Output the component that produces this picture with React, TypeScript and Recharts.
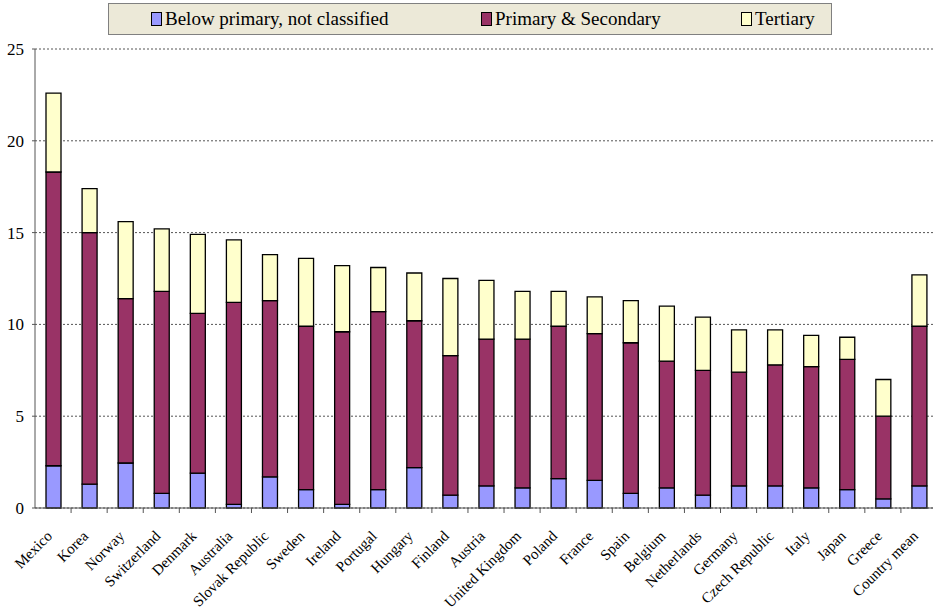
import React from 'react';
import { BarChart, Bar, XAxis, YAxis, CartesianGrid } from 'recharts';

if (typeof document !== 'undefined') document.body.style.margin = '0';

const countries = [
  'Mexico', 'Korea', 'Norway', 'Switzerland', 'Denmark', 'Australia', 'Slovak Republic', 'Sweden',
  'Ireland', 'Portugal', 'Hungary', 'Finland', 'Austria', 'United Kingdom', 'Poland', 'France',
  'Spain', 'Belgium', 'Netherlands', 'Germany', 'Czech Republic', 'Italy', 'Japan', 'Greece', 'Country mean',
];

const belowPrimary = [2.3, 1.3, 2.45, 0.8, 1.9, 0.2, 1.7, 1.0, 0.2, 1.0, 2.2, 0.7, 1.2, 1.1, 1.6, 1.5, 0.8, 1.1, 0.7, 1.2, 1.2, 1.1, 1.0, 0.5, 1.2];
const primarySecondary = [16.0, 13.7, 8.95, 11.0, 8.7, 11.0, 9.6, 8.9, 9.4, 9.7, 8.0, 7.6, 8.0, 8.1, 8.3, 8.0, 8.2, 6.9, 6.8, 6.2, 6.6, 6.6, 7.1, 4.5, 8.7];
const tertiary = [4.3, 2.4, 4.2, 3.4, 4.3, 3.4, 2.5, 3.7, 3.6, 2.4, 2.6, 4.2, 3.2, 2.6, 1.9, 2.0, 2.3, 3.0, 2.9, 2.3, 1.9, 1.7, 1.2, 2.0, 2.8];
const yTicks = [0, 5, 10, 15, 20, 25];

const data = countries.map((c, i) => ({
  name: c,
  below: belowPrimary[i],
  primary: primarySecondary[i],
  tertiary: tertiary[i],
}));

const FONT = "'Liberation Serif', Tinos, 'Times New Roman', Times, 'DejaVu Serif', serif";
const CHART_W = 933;
const CHART_H = 613;
const LEFT = 35;
const RIGHT_OVERHANG = 4; // plot runs a few px past the right edge in the original
const BAND = (CHART_W + RIGHT_OVERHANG - LEFT) / data.length;

const series = [
  { key: 'below', label: 'Below primary, not classified', color: '#9999FF', left: 42 },
  { key: 'primary', label: 'Primary & Secondary', color: '#993366', left: 372 },
  { key: 'tertiary', label: 'Tertiary', color: '#FFFFCC', left: 632 },
];

const CountryTick = (props: any) => {
  const { x, y, payload } = props;
  return (
    <g>
      <line x1={x + BAND / 2} x2={x + BAND / 2} y1={y - 8} y2={y - 3} stroke="#555" strokeWidth={1} />
      <text
        transform={`translate(${x},${y + 21}) rotate(-45)`}
        textAnchor="end"
        style={{ fontFamily: FONT, fontSize: 15 }}
        fill="#000"
      >
        {payload.value}
      </text>
    </g>
  );
};

const ValueTick = (props: any) => {
  const { x, y, payload } = props;
  return (
    <text x={x - 4} y={y + 6} textAnchor="end" style={{ fontFamily: FONT, fontSize: 17 }} fill="#000">
      {payload.value}
    </text>
  );
};

const LegendBox = () => (
  <div
    style={{
      position: 'absolute',
      left: 108,
      top: 3,
      width: 724,
      height: 32,
      boxSizing: 'border-box',
      background: '#ECE9D8',
      border: '1px solid #808080',
      fontFamily: FONT,
      fontSize: 19,
      color: '#000',
    }}
  >
    {series.map((s) => (
      <div
        key={s.key}
        style={{
          display: 'flex',
          alignItems: 'center',
          position: 'absolute',
          top: 3,
          left: s.left,
          lineHeight: '24px',
          whiteSpace: 'nowrap',
        }}
      >
        <span
          style={{
            display: 'inline-block',
            width: 9,
            height: 12,
            background: s.color,
            border: '1px solid #000',
            marginRight: 3,
          }}
        />
        {s.label}
      </div>
    ))}
  </div>
);

export default function App() {
  return (
    <div style={{ position: 'relative', width: CHART_W, height: CHART_H, background: '#fff', fontFamily: FONT, overflow: 'hidden' }}>
      <BarChart
        width={CHART_W}
        height={CHART_H}
        data={data}
        margin={{ top: 49, right: -RIGHT_OVERHANG, left: 0, bottom: 0 }}
        barCategoryGap="0%"
        style={{ overflow: 'visible' }}
      >
        <CartesianGrid vertical={false} stroke="#555" strokeDasharray="2 2" />
        <XAxis
          dataKey="name"
          interval={0}
          height={105}
          tick={<CountryTick />}
          tickLine={false}
          axisLine={{ stroke: '#555' }}
        />
        <YAxis
          width={LEFT}
          domain={[0, 25]}
          ticks={yTicks}
          tickSize={3}
          tickLine={{ stroke: '#555' }}
          axisLine={{ stroke: '#555' }}
          tick={<ValueTick />}
          tickMargin={4}
        />
        {series.map((s) => (
          <Bar
            key={s.key}
            dataKey={s.key}
            stackId="a"
            fill={s.color}
            stroke="#000"
            strokeWidth={1.3}
            barSize={15}
            isAnimationActive={false}
          />
        ))}
      </BarChart>
      <LegendBox />
    </div>
  );
}
